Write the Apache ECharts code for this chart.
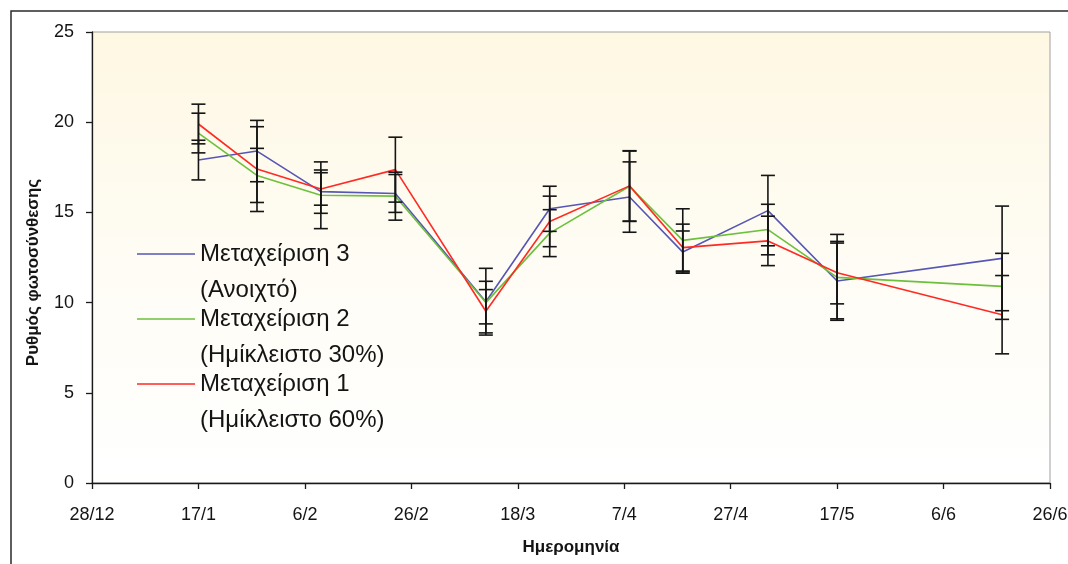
<!DOCTYPE html>
<html>
<head>
<meta charset="utf-8">
<script src="https://cdn.jsdelivr.net/npm/echarts@6/dist/echarts.min.js"></script>
<style>
  html, body { margin: 0; padding: 0; background: #ffffff; }
  #chart { width: 1068px; height: 564px; }
</style>
</head>
<body>
<div id="chart"></div>
<script>
// ---- Data ----
const axisStartDate = '2006-12-28';
const dates = ['2007-01-17', '2007-01-28', '2007-02-09', '2007-02-23', '2007-03-12', '2007-03-24',
               '2007-04-08', '2007-04-18', '2007-05-04', '2007-05-17', '2007-06-17'];

const seriesNames = ['Μεταχείριση 3\n(Ανοιχτό)', 'Μεταχείριση 2\n(Ημίκλειστο 30%)', 'Μεταχείριση 1\n(Ημίκλειστο 60%)'];

const treat3 = [17.9, 18.4, 16.15, 16.05, 10.05, 15.2, 15.85, 12.8, 15.1, 11.2, 12.45];
const treat3Err = [1.1, 1.7, 1.2, 1.05, 1.85, 1.25, 1.95, 1.17, 1.95, 2.1, 2.9];

const treat2 = [19.4, 17.05, 15.95, 15.9, 10.0, 13.85, 16.45, 13.45, 14.05, 11.4, 10.9];
const treat2Err = [1.1, 1.5, 1.85, 1.33, 1.18, 1.3, 1.95, 1.75, 1.4, 2.38, 1.83];

const treat1 = [19.9, 17.4, 16.3, 17.37, 9.52, 14.5, 16.47, 13.05, 13.42, 11.66, 9.33];
const treat1Err = [1.1, 2.35, 0.9, 1.8, 1.2, 1.4, 1.95, 1.3, 1.37, 1.73, 2.17];

const yTicks = [0, 5, 10, 15, 20, 25];
const xTickStepDays = 20;
const xSpanDays = 180;

const yAxisTitle = 'Ρυθμός φωτοσύνθεσης';
const xAxisTitle = 'Ημερομηνία';

// ---- Helpers ----
function toUTC(s) { const p = s.split('-').map(Number); return Date.UTC(p[0], p[1] - 1, p[2]); }
const base = toUTC(axisStartDate);
function dayOffset(s) { return Math.round((toUTC(s) - base) / 86400000); }
function dayLabel(v) {
  const d = new Date(base + v * 86400000);
  return d.getUTCDate() + '/' + (d.getUTCMonth() + 1);
}

const xs = dates.map(dayOffset);
const colors = ['#5656B4', '#6CC03C', '#FF2A24'];
const values = [treat3, treat2, treat1];
const errors = [treat3Err, treat2Err, treat1Err];

const FONT = "'Liberation Sans', Arial, sans-serif";

// legend icon: a short line aligned with the first text line of a two-line entry
const LEG_W = 58, LEG_LH = 36;
const legendIcon = 'path://M0,0L0.01,0M0,' + (LEG_LH / 2 - 0.8) + 'L' + LEG_W + ',' + (LEG_LH / 2 - 0.8) +
  'L' + LEG_W + ',' + (LEG_LH / 2 + 0.8) + 'L0,' + (LEG_LH / 2 + 0.8) + 'ZM0,' + (2 * LEG_LH) + 'L0.01,' + (2 * LEG_LH);

const lineSeries = values.map((vals, k) => ({
  name: seriesNames[k],
  type: 'line',
  symbol: 'none',
  color: colors[k],
  itemStyle: { color: colors[k] },
  lineStyle: { color: colors[k], width: 1.6 },
  data: xs.map((x, i) => [x, vals[i]]),
  z: 2 + k
}));

const errorSeries = values.map((vals, k) => ({
  name: 'err' + k,
  type: 'custom',
  z: 10,
  silent: true,
  encode: { x: 0, y: [1, 2] },
  data: xs.map((x, i) => [x, vals[i] - errors[k][i], vals[i] + errors[k][i]]),
  renderItem: function (params, api) {
    const x = api.value(0);
    const lo = api.coord([x, api.value(1)]);
    const hi = api.coord([x, api.value(2)]);
    const hw = 7;
    const st = { stroke: '#151515', lineWidth: 1.6 };
    return {
      type: 'group',
      children: [
        { type: 'line', shape: { x1: lo[0], y1: lo[1], x2: hi[0], y2: hi[1] }, style: st },
        { type: 'line', shape: { x1: lo[0] - hw, y1: lo[1], x2: lo[0] + hw, y2: lo[1] }, style: st },
        { type: 'line', shape: { x1: hi[0] - hw, y1: hi[1], x2: hi[0] + hw, y2: hi[1] }, style: st }
      ]
    };
  }
}));

const chart = echarts.init(document.getElementById('chart'), null, { renderer: 'canvas' });
chart.setOption({
  animation: false,
  backgroundColor: '#ffffff',
  textStyle: { fontFamily: FONT },
  graphic: [
    { type: 'rect', silent: true, z: -10,
      shape: { x: 11, y: 11, width: 1100, height: 600 },
      style: { fill: 'none', stroke: '#2a2a2a', lineWidth: 1.5 } }
  ],
  grid: {
    left: 92, right: 18, top: 32, bottom: 81,
    outerBoundsMode: 'none',
    containLabel: false,
    show: true,
    borderColor: '#a0a0a0',
    borderWidth: 1,
    backgroundColor: {
      type: 'linear', x: 0, y: 0, x2: 0, y2: 1,
      colorStops: [
        { offset: 0, color: '#FEF8E3' },
        { offset: 0.5, color: '#FEFCF4' },
        { offset: 1, color: '#FFFFFF' }
      ]
    }
  },
  legend: {
    orient: 'vertical',
    left: 137,
    top: 236,
    padding: 0,
    icon: legendIcon,
    itemWidth: LEG_W,
    itemHeight: 2 * LEG_LH,
    itemGap: 65 - 2 * LEG_LH,
    itemStyle: { borderWidth: 0 },
    data: seriesNames,
    selectedMode: false,
    textStyle: { fontFamily: FONT, fontSize: 24, lineHeight: LEG_LH, color: '#141414' }
  },
  xAxis: {
    type: 'value',
    min: 0,
    max: xSpanDays,
    interval: xTickStepDays,
    name: xAxisTitle,
    nameLocation: 'middle',
    nameGap: 56,
    nameTextStyle: { fontFamily: FONT, fontSize: 17, fontWeight: 'bold', color: '#141414' },
    axisLine: { show: true, lineStyle: { color: '#1a1a1a', width: 1.3 } },
    axisTick: { show: true, inside: false, length: 6, lineStyle: { color: '#1a1a1a', width: 1.3 } },
    axisLabel: { fontFamily: FONT, fontSize: 18, color: '#141414', margin: 23, formatter: dayLabel },
    splitLine: { show: false }
  },
  yAxis: {
    type: 'value',
    min: yTicks[0],
    max: yTicks[yTicks.length - 1],
    interval: yTicks[1] - yTicks[0],
    name: yAxisTitle,
    nameLocation: 'middle',
    nameGap: 50,
    nameTextStyle: { fontFamily: FONT, fontSize: 17, fontWeight: 'bold', color: '#141414', padding: [0, 30, 0, 0] },
    axisLine: { show: true, lineStyle: { color: '#1a1a1a', width: 1.3 } },
    axisTick: { show: true, inside: false, length: 6, lineStyle: { color: '#1a1a1a', width: 1.3 } },
    axisLabel: { fontFamily: FONT, fontSize: 18, color: '#141414', margin: 18 },
    splitLine: { show: false }
  },
  series: lineSeries.concat(errorSeries)
});
</script>
</body>
</html>
